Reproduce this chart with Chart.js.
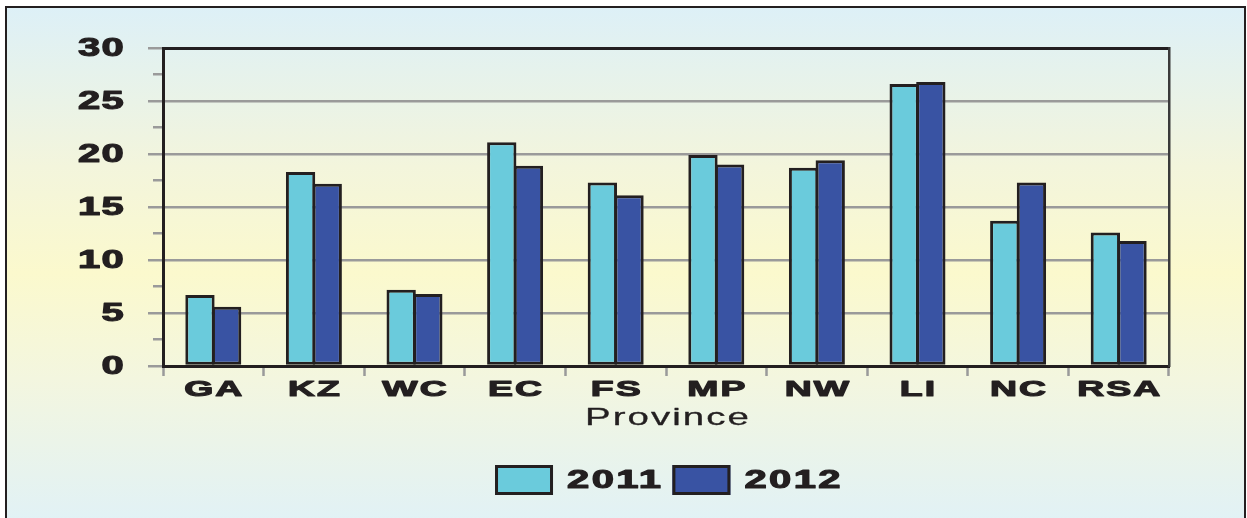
<!DOCTYPE html>
<html>
<head>
<meta charset="utf-8">
<title>Province 2011 / 2012</title>
<script src="https://cdn.jsdelivr.net/npm/chart.js@4.4.0/dist/chart.umd.min.js"></script>
<style>
  html, body { margin: 0; padding: 0; background: #fff; }
  body { width: 1247px; height: 518px; position: relative; overflow: hidden; }
  #frame {
    position: absolute; left: 5px; top: 6px; width: 1237px; height: 530px;
    border: 2.5px solid #231f20;
    background: linear-gradient(to bottom, #ddf0f7 0%, #f3f5dc 30%, #fbf9cd 50%, #f3f6df 70%, #dff1f8 100%);
  }
  #chart { position: absolute; left: 0; top: 0; }
</style>
</head>
<body>
<div id="frame"></div>
<canvas id="chart" width="1247" height="518"></canvas>
<script>
// values per province, two survey years
const provinces = ['GA', 'KZ', 'WC', 'EC', 'FS', 'MP', 'NW', 'LI', 'NC', 'RSA'];
const values2011 = [6.7, 18.3, 7.2, 21.1, 17.3, 19.9, 18.7, 26.6, 13.7, 12.6];
const values2012 = [5.6, 17.2, 6.8, 18.9, 16.1, 19.0, 19.4, 26.8, 17.3, 11.8];
const yMax = 30;
const yStep = 2.5;       // minor tick spacing
const yLabelStep = 5;    // labelled ticks + grid lines
const axisTitle = 'Province';

const INK = '#231f20';
const GRID = '#9a9a9a';
const FONT = '"Liberation Sans", Arial, sans-serif';

// wide lettering: draw text stretched horizontally, optional stroke for extra weight
function wideText(ctx, text, x, y, opt) {
  ctx.save();
  ctx.font = opt.font;
  ctx.fillStyle = INK;
  ctx.strokeStyle = INK;
  ctx.textBaseline = 'middle';
  ctx.textAlign = opt.align || 'center';
  ctx.letterSpacing = (opt.spacing || 0) + 'px';
  ctx.translate(x, y);
  ctx.scale(opt.sx || 1, 1);
  ctx.fillText(text, 0, 0);
  if (opt.heavy) {
    ctx.lineWidth = opt.heavy;
    ctx.lineJoin = 'round';
    ctx.strokeText(text, 0, 0);
  }
  ctx.restore();
}

const labelsPlugin = {
  id: 'wideLabels',
  afterDraw(chart) {
    const ctx = chart.ctx;
    const { x, y } = chart.scales;
    const area = chart.chartArea;

    y.ticks.forEach(t => {
      if (t.value % yLabelStep !== 0) return;
      wideText(ctx, String(t.value), 125, y.getPixelForValue(t.value) + 1,
        { font: 'bold 25px ' + FONT, align: 'right', sx: 1.6, spacing: 0.8, heavy: 1.1 });
    });

    chart.data.labels.forEach((lab, i) => {
      wideText(ctx, lab, x.getPixelForValue(i) + 1, 390,
        { font: 'bold 22px ' + FONT, sx: 1.7, spacing: 1.2, heavy: 1.1 });
    });

    const cx = (area.left + area.right) / 2;
    wideText(ctx, axisTitle, cx + 2, 418,
      { font: '24px ' + FONT, sx: 1.6, spacing: 1.3, heavy: 0.3 });

    // legend: box, label, box, label
    const boxW = 58, boxH = 30, gapText = 14, gapItem = 9, sx = 1.6, spacing = 1.5;
    const font = 'bold 25px ' + FONT;
    ctx.save();
    ctx.font = font;
    ctx.letterSpacing = spacing + 'px';
    const items = chart.data.datasets.map(ds => ({
      ds, w: ctx.measureText(ds.label).width * sx
    }));
    ctx.restore();
    const total = items.reduce((s, it) => s + boxW + gapText + it.w, 0) + gapItem * (items.length - 1);
    let lx = cx + 3 - total / 2;
    const ly = 480;
    items.forEach(it => {
      ctx.save();
      ctx.fillStyle = it.ds.backgroundColor;
      ctx.strokeStyle = INK;
      ctx.lineWidth = 3;
      ctx.fillRect(lx, ly - boxH / 2, boxW, boxH);
      ctx.strokeRect(lx + 1.5, ly - boxH / 2 + 1.5, boxW - 3, boxH - 3);
      ctx.restore();
      wideText(ctx, it.ds.label, lx + boxW + gapText, ly + 1,
        { font, align: 'left', sx, spacing, heavy: 1.1 });
      lx += boxW + gapText + it.w + gapItem;
    });
  }
};

new Chart(document.getElementById('chart'), {
  type: 'bar',
  data: {
    labels: provinces,
    datasets: [
      { label: '2011', data: values2011, backgroundColor: '#6acbdc', borderColor: INK,
        borderWidth: 3, borderSkipped: false, barPercentage: 1.1, categoryPercentage: 0.53 },
      { label: '2012', data: values2012, backgroundColor: '#3953a3', borderColor: INK,
        borderWidth: 3, borderSkipped: false, barPercentage: 1.1, categoryPercentage: 0.53 }
    ]
  },
  options: {
    responsive: false,
    animation: false,
    devicePixelRatio: 1,
    layout: { padding: { top: 48, right: 78, left: 0, bottom: 0 } },
    plugins: { legend: { display: false }, tooltip: { enabled: false } },
    scales: {
      x: {
        position: 'bottom',
        offset: true,
        ticks: { display: false },
        grid: { offset: true, drawOnChartArea: false, tickLength: 10, tickColor: GRID, tickWidth: 2.5 },
        border: { color: INK, width: 3 },
        afterFit: s => { s.height = 152; }
      },
      y: {
        position: 'left',
        min: 0, max: yMax,
        ticks: { display: false, stepSize: yStep },
        grid: {
          color: c => (c.tick && c.tick.value % yLabelStep === 0) ? GRID : 'rgba(0,0,0,0)',
          lineWidth: 2.5,
          tickLength: 15,
          tickColor: GRID,
          tickWidth: 2.5,
          tickBorderDash: c => (c.tick && c.tick.value % yLabelStep === 0) ? [] : [0, 5, 30]
        },
        border: { color: INK, width: 3 },
        afterFit: s => { s.width = 163; }
      },
      xTop: {
        position: 'top', z: 1,
        ticks: { display: false },
        grid: { display: false, drawTicks: false },
        border: { color: INK, width: 3 },
        afterFit: s => { s.height = 0; }
      },
      yRight: {
        position: 'right', z: 1,
        ticks: { display: false },
        grid: { display: false, drawTicks: false },
        border: { color: '#3a3a3a', width: 2.5 },
        afterFit: s => { s.width = 0; }
      }
    }
  },
  plugins: [labelsPlugin]
});
</script>
</body>
</html>
